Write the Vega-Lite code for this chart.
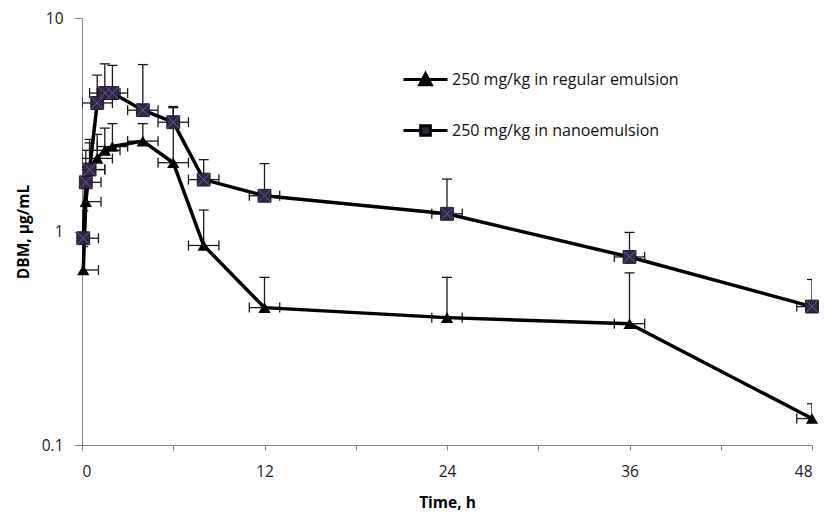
{
  "$schema": "https://vega.github.io/schema/vega-lite/v6.json",
  "width": 730,
  "height": 427,
  "autosize": "none",
  "padding": {"left": 82, "top": 18, "right": 26, "bottom": 73},
  "background": "white",
  "config": {
    "view": {"stroke": null},
    "axis": {
      "grid": false,
      "domainColor": "#868686",
      "tickColor": "#868686",
      "domainWidth": 1,
      "labelFont": "Open Sans",
      "labelFontSize": 15.5,
      "labelColor": "#222222",
      "titleFont": "Open Sans",
      "titleFontSize": 15.5,
      "titleFontWeight": "bold",
      "titleColor": "#000000"
    }
  },
  "data": {
    "values": [
      {"series": "250 mg/kg in regular emulsion", "t": 0.083, "v": 0.66, "up": 0.85, "xlo": -0.917, "xhi": 1.083},
      {"series": "250 mg/kg in regular emulsion", "t": 0.25, "v": 1.38, "up": 2.0, "xlo": -0.75, "xhi": 1.25},
      {"series": "250 mg/kg in regular emulsion", "t": 0.5, "v": 1.95, "up": 2.6, "xlo": -0.5, "xhi": 1.5},
      {"series": "250 mg/kg in regular emulsion", "t": 1, "v": 2.2, "up": 2.85, "xlo": 0, "xhi": 2},
      {"series": "250 mg/kg in regular emulsion", "t": 1.5, "v": 2.4, "up": 3.05, "xlo": 0.5, "xhi": 2.5},
      {"series": "250 mg/kg in regular emulsion", "t": 2, "v": 2.5, "up": 3.2, "xlo": 1, "xhi": 3},
      {"series": "250 mg/kg in regular emulsion", "t": 4, "v": 2.65, "up": 3.2, "xlo": 3, "xhi": 5},
      {"series": "250 mg/kg in regular emulsion", "t": 6, "v": 2.1, "up": 3.8, "xlo": 5, "xhi": 7},
      {"series": "250 mg/kg in regular emulsion", "t": 8, "v": 0.86, "up": 1.26, "xlo": 7, "xhi": 9},
      {"series": "250 mg/kg in regular emulsion", "t": 12, "v": 0.44, "up": 0.61, "xlo": 11, "xhi": 13},
      {"series": "250 mg/kg in regular emulsion", "t": 24, "v": 0.395, "up": 0.61, "xlo": 23, "xhi": 25},
      {"series": "250 mg/kg in regular emulsion", "t": 36, "v": 0.37, "up": 0.64, "xlo": 35, "xhi": 37},
      {"series": "250 mg/kg in regular emulsion", "t": 48, "v": 0.133, "up": 0.156, "xlo": 47, "xhi": 49},
      {"series": "250 mg/kg in nanoemulsion", "t": 0.083, "v": 0.93, "up": 1.25, "xlo": -0.917, "xhi": 1.083},
      {"series": "250 mg/kg in nanoemulsion", "t": 0.25, "v": 1.7, "up": 2.4, "xlo": -0.75, "xhi": 1.25},
      {"series": "250 mg/kg in nanoemulsion", "t": 0.5, "v": 1.95, "up": 2.7, "xlo": -0.5, "xhi": 1.5},
      {"series": "250 mg/kg in nanoemulsion", "t": 1, "v": 4.0, "up": 5.4, "xlo": 0, "xhi": 2},
      {"series": "250 mg/kg in nanoemulsion", "t": 1.5, "v": 4.45, "up": 6.1, "xlo": 0.5, "xhi": 2.5},
      {"series": "250 mg/kg in nanoemulsion", "t": 2, "v": 4.45, "up": 6.0, "xlo": 1, "xhi": 3},
      {"series": "250 mg/kg in nanoemulsion", "t": 4, "v": 3.7, "up": 6.05, "xlo": 3, "xhi": 5},
      {"series": "250 mg/kg in nanoemulsion", "t": 6, "v": 3.25, "up": 3.85, "xlo": 5, "xhi": 7},
      {"series": "250 mg/kg in nanoemulsion", "t": 8, "v": 1.75, "up": 2.17, "xlo": 7, "xhi": 9},
      {"series": "250 mg/kg in nanoemulsion", "t": 12, "v": 1.47, "up": 2.08, "xlo": 11, "xhi": 13},
      {"series": "250 mg/kg in nanoemulsion", "t": 24, "v": 1.21, "up": 1.76, "xlo": 23, "xhi": 25},
      {"series": "250 mg/kg in nanoemulsion", "t": 36, "v": 0.76, "up": 0.99, "xlo": 35, "xhi": 37},
      {"series": "250 mg/kg in nanoemulsion", "t": 48, "v": 0.445, "up": 0.596, "xlo": 47, "xhi": 49}
    ]
  },
  "layer": [
    {
      "mark": {"type": "rule", "color": "#1a1a1a", "strokeWidth": 1.3, "clip": true},
      "encoding": {
        "x": {"field": "t", "type": "quantitative", "title": "Time, h",
              "scale": {"domain": [0, 48], "nice": false, "zero": false},
              "axis": {"values": [0, 6, 12, 18, 24, 30, 36, 42, 48], "labelExpr": "datum.value % 12 === 0 ? datum.label : ''", "tickSize": 5, "labelPadding": 14, "titlePadding": 16}},
        "y": {"field": "v", "type": "quantitative", "title": "DBM, µg/mL",
              "scale": {"type": "log", "domain": [0.1, 10], "nice": false},
              "axis": {"values": [0.1, 1, 10], "format": "~g", "tickSize": 8, "labelPadding": 11, "titlePadding": 10}},
        "y2": {"field": "up"}
      }
    },
    {
      "mark": {"type": "tick", "orient": "horizontal", "color": "#1a1a1a", "size": 10, "thickness": 1.3, "opacity": 1, "clip": true},
      "encoding": {
        "x": {"field": "t", "type": "quantitative", "title": "Time, h"},
        "y": {"field": "up", "type": "quantitative", "title": "DBM, µg/mL"}
      }
    },
    {
      "mark": {"type": "rule", "color": "#1a1a1a", "strokeWidth": 1.3, "clip": true},
      "encoding": {
        "x": {"field": "xlo", "type": "quantitative", "title": "Time, h"},
        "x2": {"field": "xhi"},
        "y": {"field": "v", "type": "quantitative", "title": "DBM, µg/mL"}
      }
    },
    {
      "mark": {"type": "tick", "orient": "vertical", "color": "#1a1a1a", "size": 10, "thickness": 1.3, "opacity": 1, "clip": true},
      "encoding": {
        "x": {"field": "xlo", "type": "quantitative", "title": "Time, h"},
        "y": {"field": "v", "type": "quantitative", "title": "DBM, µg/mL"}
      }
    },
    {
      "mark": {"type": "tick", "orient": "vertical", "color": "#1a1a1a", "size": 10, "thickness": 1.3, "opacity": 1, "clip": true},
      "encoding": {
        "x": {"field": "xhi", "type": "quantitative", "title": "Time, h"},
        "y": {"field": "v", "type": "quantitative", "title": "DBM, µg/mL"}
      }
    },
    {
      "mark": {"type": "line", "strokeWidth": 3.5},
      "encoding": {
        "x": {"field": "t", "type": "quantitative", "title": "Time, h"},
        "y": {"field": "v", "type": "quantitative", "title": "DBM, µg/mL"},
        "color": {
          "field": "series", "type": "nominal",
          "scale": {"domain": ["250 mg/kg in regular emulsion", "250 mg/kg in nanoemulsion"], "range": ["#000000", "#000000"]},
          "legend": {
            "orient": "none",
            "legendX": 320,
            "legendY": 38,
            "title": null,
            "symbolSize": 1936,
            "rowPadding": 16,
            "labelOffset": 3,
            "labelLimit": 0,
            "labelFont": "Open Sans",
            "labelFontSize": 16,
            "labelColor": "#111111",
            "encode": {
              "symbols": {
                "update": {
                  "shape": {"signal": "datum.value === '250 mg/kg in regular emulsion' ? 'M-1,0L1,0M-0.26,0.24L0,-0.26L0.26,0.24Z' : 'M-1,0L-0.22,0M0.22,0L1,0M-0.22,-0.22L0.22,-0.22L0.22,0.22L-0.22,0.22Z'"},
                  "fill": {"signal": "datum.value === '250 mg/kg in regular emulsion' ? '#000000' : '#2e2840'"},
                  "stroke": {"value": "#000000"},
                  "strokeWidth": {"value": 3}
                }
              }
            }
          }
        },
        "detail": {"field": "series"}
      }
    },
    {
      "transform": [{"filter": "datum.series === '250 mg/kg in regular emulsion'"}],
      "mark": {"type": "point", "shape": "triangle-up", "filled": true, "color": "#000000", "size": 150, "opacity": 1},
      "encoding": {
        "x": {"field": "t", "type": "quantitative", "title": "Time, h"},
        "y": {"field": "v", "type": "quantitative", "title": "DBM, µg/mL"}
      }
    },
    {
      "transform": [{"filter": "datum.series === '250 mg/kg in nanoemulsion'"}],
      "mark": {"type": "point", "shape": "square", "filled": true, "fill": "#2e2840", "stroke": "#1e1a2a", "strokeWidth": 1, "size": 165, "opacity": 1},
      "encoding": {
        "x": {"field": "t", "type": "quantitative", "title": "Time, h"},
        "y": {"field": "v", "type": "quantitative", "title": "DBM, µg/mL"}
      }
    },
    {
      "transform": [{"filter": "datum.series === '250 mg/kg in nanoemulsion'"}],
      "mark": {"type": "point", "shape": "M-1,-1L1,1M-1,1L1,-1", "filled": false, "stroke": "#6e52a0", "strokeWidth": 1, "size": 145, "opacity": 1},
      "encoding": {
        "x": {"field": "t", "type": "quantitative", "title": "Time, h"},
        "y": {"field": "v", "type": "quantitative", "title": "DBM, µg/mL"}
      }
    }
  ]
}
